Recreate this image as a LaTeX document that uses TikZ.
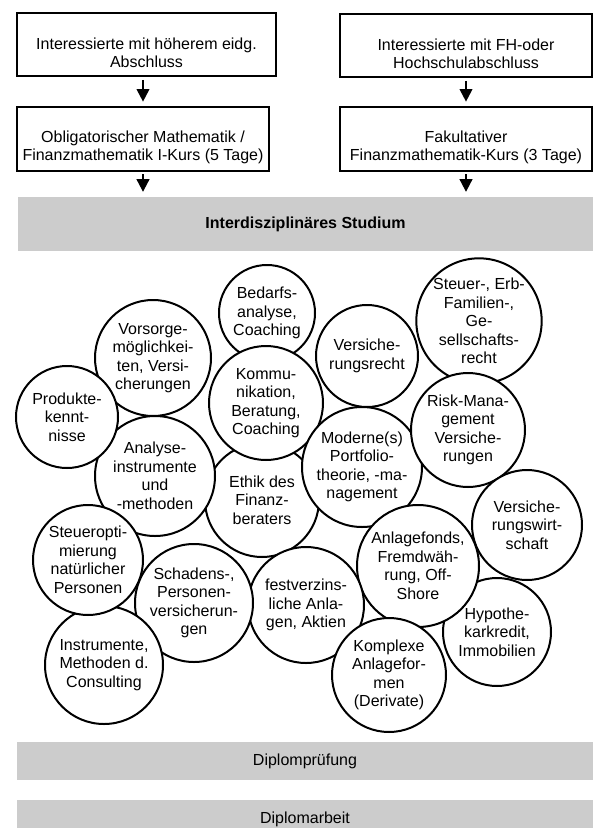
\documentclass[tikz,border=0pt]{standalone}
\usepackage{fontspec}
\setmainfont{Liberation Sans}
\usetikzlibrary{arrows.meta}

\definecolor{bandgrey}{RGB}{204,204,204}

% taller first line, so the box text sits a little low as in Word
\newcommand{\boxstrut}{\rule{0pt}{21pt}}

\tikzset{every picture/.style={line width=0.75pt}}
\tikzset{
    txt/.style={font=\fontsize{12}{13.9}\selectfont, align=center},
    stagebox/.style={txt, draw, line width=1.5pt, fill=white, inner sep=0pt, minimum width=#1, minimum height=47.5pt},
    topic/.style={txt, circle, draw, line width=1.5pt, fill=white, inner sep=0pt, minimum size=1.5pt*#1},
    band/.style={txt, fill=bandgrey, inner sep=0pt, minimum width=431.5pt, minimum height=#1},
    flow/.style={line width=1.5pt, -{Triangle[length=9.5pt,width=9.5pt]}, shorten <=2pt, shorten >=3.5pt}
}

\begin{document}
\begin{tikzpicture}[x=0.75pt,y=0.75pt,yscale=-1,xscale=1]
            \useasboundingbox (0,0) rectangle (597,828);
            \clip (0,0) rectangle (597,828);

            %Shape: Rectangle
            \node [stagebox=194.25pt] (hoeher) at (146.5,44.5) {\boxstrut Interessierte mit höherem eidg.\\Abschluss};
            %Shape: Rectangle
            \node [stagebox=189pt] (oblig) at (143,139) {\boxstrut Obligatorischer Mathematik /\\Finanzmathematik I-Kurs (5 Tage)};
            %Shape: Rectangle
            \node [stagebox=189pt] (fh) at (466,45.5) {\boxstrut Interessierte mit FH-oder\\Hochschulabschluss};
            %Shape: Rectangle
            \node [stagebox=189pt] (fakult) at (466,139) {\boxstrut Fakultativer\\Finanzmathematik-Kurs (3 Tage)};

            %Shape: Band
            \node [band=40.5pt] (studium) at (305.5,224) {\bfseries Interdisziplinäres Studium};

            %Straight Lines
            \draw [flow] (hoeher.south -| oblig.north) -- (oblig.north);
            \draw [flow] (oblig.south) -- (oblig.south |- studium.north);
            \draw [flow] (fh.south) -- (fakult.north);
            \draw [flow] (fakult.south) -- (fakult.south |- studium.north);

            %Shape: Circle
            \node [topic=48] (bedarf) at (267,313) {Bedarfs-\\analyse,\\Coaching};
            \node [topic=58] (vorsorge) at (153,358) {Vorsorge-\\möglichkei-\\ten, Versi-\\cherungen};
            \node [topic=57] (ethik) at (262,500) {Ethik des\\Finanz-\\beraters};
            \node [topic=60] (analyse) at (155,476) {Analyse-\\instrumente\\und\\-methoden};
            \node [topic=51] (produkte) at (67,417) {Produkte-\\kennt-\\nisse};
            \node [topic=57] (kommunikation) at (266,403) {Kommu-\\nikation,\\Beratung,\\Coaching};
            \node [topic=51] (vrecht) at (367,356) {Versiche-\\rungsrecht};
            \node [topic=61] (steuerrecht) at (479,321) {Steuer-, Erb-\\Familien-,\\Ge-\\sellschafts-\\recht};
            \node [topic=60] (portfolio) at (362,467) {Moderne(s)\\Portfolio-\\theorie, -ma-\\nagement};
            \node [topic=57] (risk) at (468,430) {Risk-Mana-\\gement\\Versiche-\\rungen};
            \node [topic=55] (vwirtschaft) at (527,525) {Versiche-\\rungswirt-\\schaft};
            \node [topic=54] (hypothek) at (497,632) {Hypothe-\\karkredit,\\Immobilien};
            \node [topic=61] (anlagefonds) at (418,566) {Anlagefonds,\\Fremdwäh-\\rung, Off-\\Shore};
            \node [topic=58] (festverz) at (306,605) {festverzins-\\liche Anla-\\gen, Aktien};
            \node [topic=59] (schadens) at (194,603) {Schadens-,\\Personen-\\versicherun-\\gen};
            \node [topic=59] (consulting) at (104,665) {Instrumente,\\Methoden d.\\Consulting};
            \node [topic=55] (steueropt) at (88,560) {Steueropti-\\mierung\\natürlicher\\Personen};
            \node [topic=57] (derivate) at (389,675) {Komplexe\\Anlagefor-\\men\\(Derivate)};

            %Shape: Band
            \node [band=28.5pt] (pruefung) at (305,761) {Diplomprüfung};
            \node [band=28.5pt] (arbeit) at (305,819) {Diplomarbeit};

        \end{tikzpicture}
\end{document}
